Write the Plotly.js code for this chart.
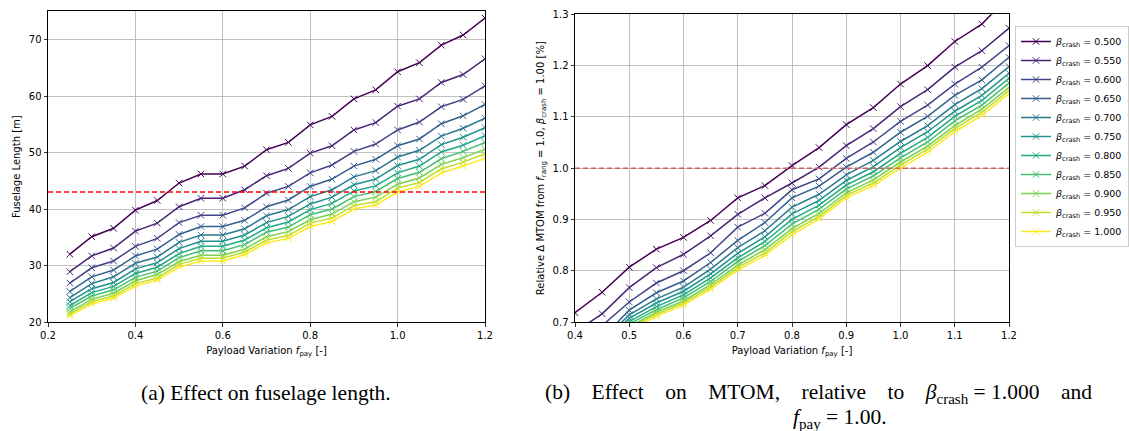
<!DOCTYPE html>
<html>
<head>
<meta charset="utf-8">
<script src="https://cdn.plot.ly/plotly-3.0.1.min.js"></script>
<style>
  html, body { margin: 0; padding: 0; background: #fff; }
  #chart { width: 1129px; height: 431px; }
</style>
</head>
<body>
<div id="chart"></div>
<script>
// ---------- DATA ----------
const fpay = [0.25, 0.30, 0.35, 0.40, 0.45, 0.50, 0.55, 0.60, 0.65, 0.70,
              0.75, 0.80, 0.85, 0.90, 0.95, 1.00, 1.05, 1.10, 1.15, 1.20];
const betaCrash = ["0.500", "0.550", "0.600", "0.650", "0.700", "0.750",
                   "0.800", "0.850", "0.900", "0.950", "1.000"];

// (a) Fuselage length [m]
const lenB0500 = [32.0, 35.1, 36.6, 39.8, 41.5, 44.6, 46.2, 46.2, 47.6, 50.5, 51.8, 54.9, 56.4, 59.5, 61.1, 64.3, 65.9, 69.0, 70.8, 73.8];
const lenB0550 = [28.9, 31.7, 33.1, 36.1, 37.5, 40.4, 41.9, 41.9, 43.4, 45.9, 47.2, 49.9, 51.2, 54.0, 55.3, 58.2, 59.5, 62.4, 63.8, 66.6];
const lenB0600 = [26.9, 29.6, 30.8, 33.4, 34.8, 37.6, 38.9, 38.9, 40.2, 42.8, 44.0, 46.4, 47.8, 50.2, 51.5, 54.0, 55.4, 58.1, 59.4, 61.8];
const lenB0650 = [25.4, 28.0, 29.2, 31.7, 32.9, 35.5, 36.9, 36.9, 38.0, 40.4, 41.6, 44.0, 45.3, 47.6, 48.8, 51.2, 52.4, 55.1, 56.5, 58.5];
const lenB0700 = [24.3, 26.8, 28.0, 30.4, 31.5, 34.1, 35.4, 35.4, 36.5, 38.8, 39.9, 42.2, 43.4, 45.7, 46.8, 49.2, 50.4, 52.9, 54.3, 56.1];
const lenB0750 = [23.6, 25.9, 27.0, 29.4, 30.5, 33.0, 34.3, 34.3, 35.4, 37.6, 38.7, 40.9, 42.1, 44.3, 45.3, 47.7, 48.8, 51.4, 52.7, 54.4];
const lenB0800 = [22.9, 25.2, 26.3, 28.6, 29.7, 32.1, 33.4, 33.4, 34.5, 36.7, 37.7, 39.9, 41.0, 43.2, 44.1, 46.4, 47.6, 50.1, 51.3, 53.0];
const lenB0850 = [22.4, 24.6, 25.7, 27.9, 29.0, 31.4, 32.6, 32.6, 33.7, 35.9, 36.8, 39.0, 40.0, 42.2, 43.1, 45.4, 46.5, 48.9, 50.2, 51.8];
const lenB0900 = [21.8, 24.0, 25.1, 27.3, 28.4, 30.7, 31.8, 31.8, 32.9, 35.1, 36.0, 38.1, 39.1, 41.3, 42.1, 44.4, 45.5, 47.9, 49.1, 50.6];
const lenB0950 = [21.4, 23.6, 24.6, 26.8, 27.8, 30.2, 31.3, 31.3, 32.4, 34.5, 35.3, 37.5, 38.4, 40.6, 41.3, 43.7, 44.7, 47.1, 48.3, 49.8];
const lenB1000 = [21.1, 23.2, 24.2, 26.4, 27.4, 29.7, 30.8, 30.8, 31.9, 34.0, 34.8, 36.9, 37.8, 40.0, 40.7, 43.0, 44.0, 46.4, 47.6, 49.0];
const lengthLimit = 43.0;

// (b) Relative MTOM [-]
const mtomB0500 = [0.600, 0.640, 0.680, 0.718, 0.758, 0.807, 0.842, 0.865, 0.898, 0.942, 0.966, 1.005, 1.040, 1.085, 1.118, 1.164, 1.200, 1.247, 1.281, 1.335];
const mtomB0550 = [0.570, 0.610, 0.645, 0.680, 0.716, 0.767, 0.806, 0.832, 0.868, 0.910, 0.942, 0.971, 1.002, 1.044, 1.077, 1.120, 1.153, 1.197, 1.229, 1.273];
const mtomB0600 = [0.550, 0.585, 0.620, 0.655, 0.693, 0.739, 0.776, 0.800, 0.835, 0.885, 0.912, 0.958, 0.979, 1.019, 1.051, 1.091, 1.123, 1.164, 1.197, 1.239];
const mtomB0650 = [0.530, 0.565, 0.600, 0.635, 0.669, 0.723, 0.757, 0.780, 0.816, 0.859, 0.894, 0.942, 0.965, 1.002, 1.031, 1.070, 1.101, 1.142, 1.172, 1.216];
const mtomB0700 = [0.522, 0.559, 0.592, 0.626, 0.662, 0.714, 0.745, 0.768, 0.803, 0.845, 0.878, 0.924, 0.949, 0.987, 1.015, 1.052, 1.083, 1.124, 1.155, 1.198];
const mtomB0750 = [0.517, 0.554, 0.587, 0.620, 0.657, 0.707, 0.737, 0.760, 0.794, 0.834, 0.866, 0.911, 0.937, 0.976, 1.003, 1.040, 1.071, 1.111, 1.142, 1.185];
const mtomB0800 = [0.513, 0.551, 0.583, 0.615, 0.652, 0.701, 0.730, 0.753, 0.786, 0.825, 0.857, 0.900, 0.928, 0.967, 0.993, 1.029, 1.060, 1.101, 1.132, 1.175];
const mtomB0850 = [0.509, 0.547, 0.579, 0.610, 0.648, 0.696, 0.724, 0.747, 0.779, 0.818, 0.849, 0.891, 0.920, 0.959, 0.985, 1.020, 1.051, 1.092, 1.123, 1.166];
const mtomB0900 = [0.505, 0.544, 0.575, 0.606, 0.645, 0.691, 0.719, 0.741, 0.773, 0.811, 0.841, 0.882, 0.912, 0.952, 0.977, 1.012, 1.043, 1.083, 1.115, 1.157];
const mtomB0950 = [0.502, 0.542, 0.572, 0.603, 0.642, 0.688, 0.715, 0.737, 0.768, 0.806, 0.835, 0.876, 0.906, 0.947, 0.971, 1.006, 1.037, 1.077, 1.109, 1.151];
const mtomB1000 = [0.500, 0.540, 0.570, 0.600, 0.640, 0.685, 0.711, 0.733, 0.764, 0.801, 0.830, 0.870, 0.901, 0.942, 0.966, 1.000, 1.031, 1.071, 1.103, 1.145];
const mtomReference = 1.0;

// ---------- STYLE ----------
const viridis = ["#440154", "#482475", "#414487", "#355f8d", "#2a788e", "#21918c",
                 "#22a884", "#44bf70", "#7ad151", "#bddf26", "#fde725"];
const FONT = "DejaVu Sans, Arial, sans-serif";
const SERIF = "Liberation Serif, DejaVu Serif, serif";
const NB = "\u00a0";
const GAP = NB + NB + NB + " ";

const lengthSeries = [lenB0500, lenB0550, lenB0600, lenB0650, lenB0700, lenB0750,
                      lenB0800, lenB0850, lenB0900, lenB0950, lenB1000];
const mtomSeries = [mtomB0500, mtomB0550, mtomB0600, mtomB0650, mtomB0700, mtomB0750,
                    mtomB0800, mtomB0850, mtomB0900, mtomB0950, mtomB1000];

const traces = [];
lengthSeries.forEach((ys, i) => {
  traces.push({
    type: "scatter", mode: "lines+markers", x: fpay, y: ys,
    xaxis: "x", yaxis: "y", showlegend: false,
    line: { color: viridis[i], width: 1.5 },
    marker: { symbol: "x-thin", size: 6.5, line: { color: viridis[i], width: 1 } },
    cliponaxis: true
  });
});
mtomSeries.forEach((ys, i) => {
  traces.push({
    type: "scatter", mode: "lines+markers", x: fpay, y: ys,
    xaxis: "x2", yaxis: "y2", showlegend: true,
    name: "<i>β</i><sub>crash</sub> = " + betaCrash[i],
    line: { color: viridis[i], width: 1.5 },
    marker: { symbol: "x-thin", size: 6.5, line: { color: viridis[i], width: 1 } },
    cliponaxis: true
  });
});

const W = 1129, H = 431;
const axisCommon = {
  showline: true, linecolor: "#000", linewidth: 1, mirror: true,
  ticks: "outside", ticklen: 3.5, tickwidth: 0.8, tickcolor: "#000",
  showgrid: true, gridcolor: "#b0b0b0", gridwidth: 0.8,
  zeroline: false,
  tickfont: { family: FONT, size: 10, color: "#000" }
};

const layout = {
  width: W, height: H,
  margin: { l: 0, r: 0, t: 0, b: 0 },
  paper_bgcolor: "#fff", plot_bgcolor: "#fff",
  font: { family: FONT, size: 10, color: "#000" },
  xaxis: Object.assign({}, axisCommon, {
    domain: [48 / W, 485 / W], range: [0.2, 1.2], dtick: 0.2, tick0: 0.2, tickformat: ".1f",
    anchor: "y",
    title: { text: "Payload Variation <i>f</i><sub>pay</sub> [-]", standoff: 7,
             font: { family: FONT, size: 10, color: "#000" } }
  }),
  yaxis: Object.assign({}, axisCommon, {
    domain: [(H - 322) / H, (H - 11.3) / H], range: [20, 75], dtick: 10, tick0: 20,
    anchor: "x",
    title: { text: "Fuselage Length [m]", standoff: 6,
             font: { family: FONT, size: 10, color: "#000" } }
  }),
  xaxis2: Object.assign({}, axisCommon, {
    domain: [575 / W, 1009 / W], range: [0.4, 1.2], dtick: 0.1, tick0: 0.4, tickformat: ".1f",
    anchor: "y2",
    title: { text: "Payload Variation <i>f</i><sub>pay</sub> [-]", standoff: 7,
             font: { family: FONT, size: 10, color: "#000" } }
  }),
  yaxis2: Object.assign({}, axisCommon, {
    domain: [(H - 322) / H, (H - 14.3) / H], range: [0.7, 1.3], dtick: 0.1, tick0: 0.7, tickformat: ".1f",
    anchor: "x2",
    title: { text: "Relative Δ MTOM from <i>f</i><sub>rang</sub> = 1.0, <i>β</i><sub>crash</sub> = 1.00 [%]", standoff: 6,
             font: { family: FONT, size: 10, color: "#000" } }
  }),
  legend: {
    x: 1015 / W, y: (H - 26) / H, xanchor: "left", yanchor: "top",
    bgcolor: "rgba(255,255,255,0.8)", bordercolor: "#cccccc", borderwidth: 1,
    font: { family: FONT, size: 9.5, color: "#000" },
    tracegroupgap: 0, itemwidth: 30
  },
  shapes: [
    { type: "line", xref: "x domain", yref: "y", x0: 0, x1: 1, y0: lengthLimit, y1: lengthLimit,
      line: { color: "#ff0000", width: 1.5, dash: "5px,3px" }, layer: "above" },
    { type: "line", xref: "x2 domain", yref: "y2", x0: 0, x1: 1, y0: mtomReference, y1: mtomReference,
      line: { color: "#d0605e", width: 1.5, dash: "5px,3px" }, layer: "above" }
  ],
  annotations: [
    { xref: "paper", yref: "paper", x: 266 / W, y: (H - 393) / H, xanchor: "center", yanchor: "middle",
      showarrow: false, text: "(a) Effect on fuselage length.",
      font: { family: SERIF, size: 21.5, color: "#000" } },
    { xref: "paper", yref: "paper", x: 818 / W, y: (H - 393) / H, xanchor: "center", yanchor: "middle",
      showarrow: false,
      text: ["(b)", "Effect", "on", "MTOM,", "relative", "to", "<i>β</i><sub>crash</sub>" + NB + "=" + NB + "1.000", "and"].join(GAP),
      font: { family: SERIF, size: 21.5, color: "#000" } },
    { xref: "paper", yref: "paper", x: 840 / W, y: (H - 418) / H, xanchor: "center", yanchor: "middle",
      showarrow: false, text: "<i>f</i><sub>pay</sub> = 1.00.",
      font: { family: SERIF, size: 21.5, color: "#000" } }
  ]
};

Plotly.newPlot("chart", traces, layout, { displayModeBar: false, staticPlot: true });
</script>
</body>
</html>
